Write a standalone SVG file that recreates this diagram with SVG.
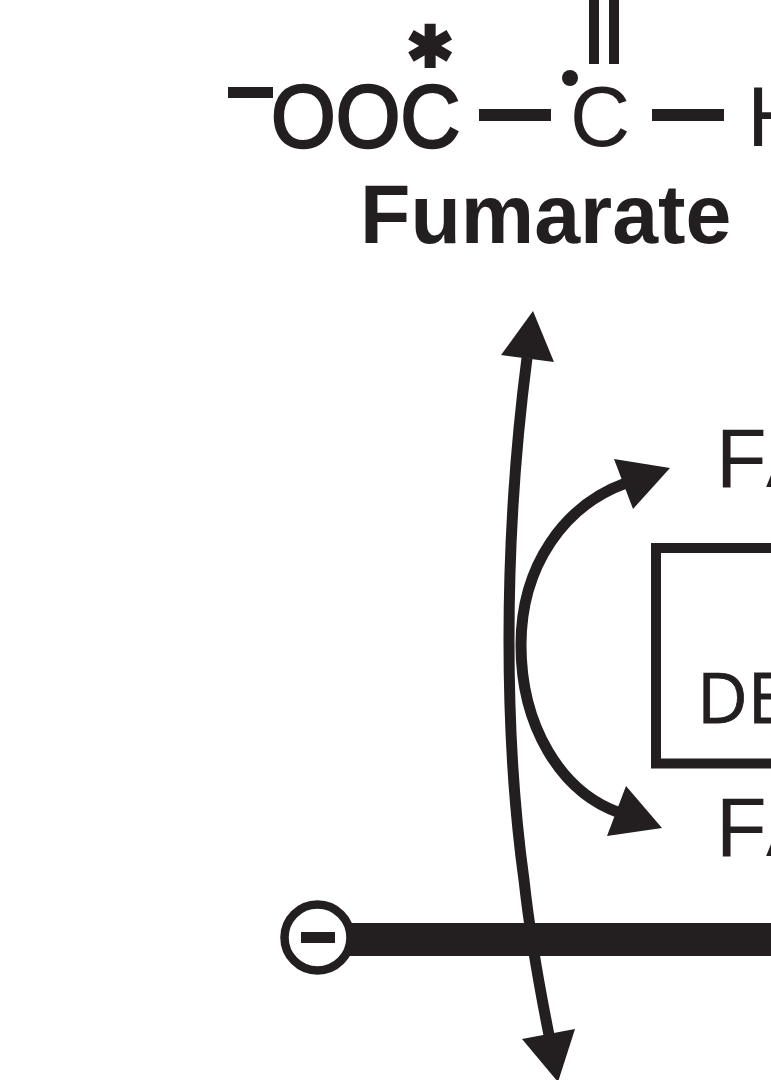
<svg xmlns="http://www.w3.org/2000/svg" width="771" height="1080" viewBox="0 0 771 1080">
<style>
text{font-family:"Liberation Sans",Arial,sans-serif;fill:#231f20}
.f{fill:#231f20;stroke:none}
.l{fill:none;stroke:#231f20;stroke-width:11}
</style>
<rect width="771" height="1080" fill="#fff"/>
<g id="fumarate">
<rect class="f" x="228" y="87" width="45" height="11"/>
<text x="271" y="147" font-size="88" stroke="#231f20" stroke-width="2.6" transform="translate(271 0) scale(.945 1) translate(-271 0)">OOC</text>
<text x="430" y="67" font-size="58" font-weight="700" text-anchor="middle" stroke="#231f20" stroke-width="2" style="font-family:'DejaVu Sans',sans-serif">✱</text>
<rect class="f" x="479" y="109" width="72" height="12"/>
<text x="570" y="146" font-size="86" transform="translate(570 0) scale(.97 1) translate(-570 0)">C</text>
<circle class="f" cx="570" cy="78" r="8"/>
<rect class="f" x="589" y="0" width="10" height="64"/>
<rect class="f" x="609" y="0" width="10" height="64"/>
<rect class="f" x="652" y="109" width="72" height="12"/>
<text x="747" y="146" font-size="86">H</text>
<text x="360" y="243" font-size="82.5" font-weight="700">Fumarate</text>
</g>
<g id="fad-top"><text x="716" y="487" font-size="83" letter-spacing="4">FA</text></g>
<g id="enzyme"><rect fill="none" stroke="#231f20" stroke-width="10" x="656" y="548" width="130" height="215.5"/><text x="697" y="723" font-size="70" stroke="#231f20" stroke-width=".8" style="font-family:'Open Sans',sans-serif">DE</text></g>
<g id="fad-bottom"><text x="716" y="856" font-size="83" letter-spacing="4">FA</text></g>
<g id="connectors">
<path class="l" d="M527 358C515 450 509 550 509 640C509 730 515 815 524 880C530 935 540 990 549 1035"/>
<polygon class="f" points="533,311 501,355 554,362"/>
<polygon class="f" points="558,1082 522,1039 575,1029"/>
<path class="l" d="M626 483C565 505 521 565 521 645C521 725 560 792 620 813"/>
<polygon class="f" points="670,468 614,459 633,509"/>
<polygon class="f" points="662,828 607,836 626,786"/>
<rect class="f" x="345" y="923" width="426" height="33"/>
</g>
<g id="inhibition">
<circle cx="317.5" cy="937.5" r="33" fill="#fff" stroke="#231f20" stroke-width="8.5"/>
<rect class="f" x="301" y="932" width="34" height="11"/>
</g>
</svg>
